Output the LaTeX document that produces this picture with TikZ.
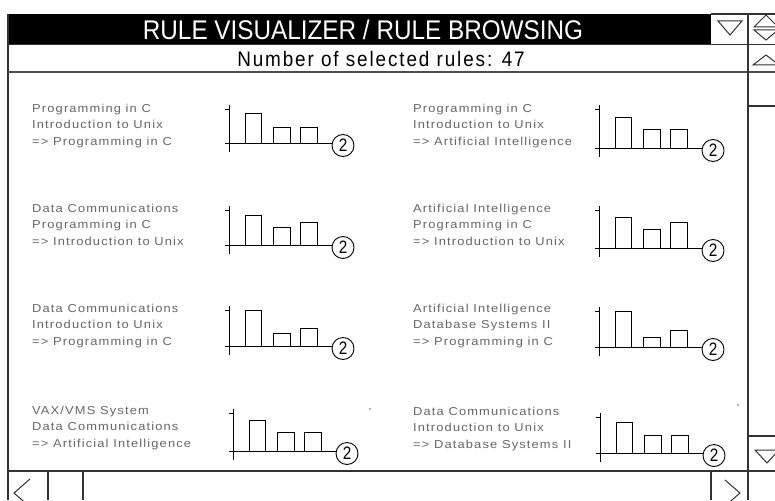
\documentclass[tikz,border=0pt]{standalone}
\usepackage{fontspec}
\setmainfont{Liberation Sans}
\newfontfamily\titlefont[FakeStretch=0.9]{Liberation Sans}
\newfontfamily\countfont[FakeStretch=0.9,LetterSpace=9]{Liberation Sans}
\newfontfamily\itemfont[FakeStretch=1.12,LetterSpace=10]{Liberation Sans}
\newfontfamily\digitfont[FakeStretch=0.85]{Liberation Sans}

\tikzset{
  frameline/.style={draw=black!80, line width=1.3pt},
  axisline/.style={draw=black, line width=1pt},
  barbox/.style={draw=black, line width=1pt},
  itemtext/.style={font=\itemfont\fontsize{11.5}{16.5}\selectfont, text=black!60,
    align=left, anchor=north west, inner sep=0pt},
  countbadge/.style={circle, draw=black, line width=0.9pt, minimum size=22pt,
    inner sep=0pt, font=\digitfont\fontsize{18}{18}\selectfont},
  glyph/.style={draw=black!80, line width=1pt, line join=miter},
}

% one support chart: id, axis x, baseline y, tick rise, three bar heights
\newcommand\rulechart[7]{%
  \pgfmathsetmacro\ctop{#3-#4-4}%
  \pgfmathsetmacro\ctick{#3-#4}%
  \pgfmathsetmacro\cbot{#3+9}%
  \pgfmathsetmacro\cleft{#2-4}%
  \node[countbadge] (#1-n) at (#2+114,#3+2.5) {2};
  \coordinate (#1-axtop) at (#2,\ctop);
  \coordinate (#1-axbot) at (#2,\cbot);
  \coordinate (#1-tick) at (\cleft,\ctick);
  \coordinate (#1-tickend) at (#2,\ctick);
  \coordinate (#1-zero) at (\cleft,#3);
  \draw[axisline] (#1-axtop) -- (#1-axbot);
  \draw[axisline] (#1-tick) -- (#1-tickend);
  \draw[axisline] (#1-zero) -- (#1-n.west |- #1-zero);
  \draw[barbox] (#2+16,#3) rectangle (#2+32,#3-#5);
  \draw[barbox] (#2+44,#3) rectangle (#2+61,#3-#6);
  \draw[barbox] (#2+71,#3) rectangle (#2+88,#3-#7);
}

% one rule text: id, x, centre of first line, three lines
\newcommand\ruleitem[6]{%
  \node[itemtext] (#1) at (#2,#3-4.1) {#4\\#5\\#6};
}

\begin{document}
\begin{tikzpicture}[x=1pt,y=-1pt]
\useasboundingbox (0,0) rectangle (775,500);
\clip (0,0) rectangle (775,500);
\fill[white] (0,0) rectangle (775,500);

% title bar
\fill[black] (8,14) rectangle (711,44);
\node[font=\titlefont\fontsize{27}{27}\selectfont, text=white, inner sep=0pt]
  (title) at (363,29.5) {RULE VISUALIZER / RULE BROWSING};
\node[font=\countfont\fontsize{21}{21}\selectfont, inner sep=0pt]
  (count) at (381,58.5) {Number of selected rules: 47};

% window frame
\draw[frameline] (711,14) -- (775,14);
\draw[frameline] (8,14) -- (8,500);
\draw[frameline] (8,44.5) -- (775,44.5);
\draw[draw=black!70, line width=1.8pt] (8,72) -- (775,72);
\draw[frameline] (748,14) -- (748,500);
\draw[frameline] (748,106) -- (775,106);
\draw[frameline] (748,436) -- (775,436);
\draw[frameline] (8,471) -- (775,471);
\draw[frameline] (48,471) -- (48,500);
\draw[frameline] (83,471) -- (83,500);
\draw[frameline] (711,471) -- (711,500);

% scroll arrows
\draw[glyph] (718,21) -- (742,21) -- (730,35) -- cycle;
\draw[glyph] (754,27) -- (766,15) -- (778,27) -- cycle;
\draw[glyph] (754,30) -- (778,30) -- (766,40) -- cycle;
\draw[glyph] (753,65) -- (766,55) -- (779,65) -- cycle;
\draw[glyph] (755,450) -- (779,450) -- (767,463) -- cycle;
\draw[glyph] (30,479) -- (14,493) -- (30,507);
\draw[glyph] (725,480) -- (740,493) -- (725,506);

% rules
\ruleitem{t1}{32}{108}{Programming in C}{Introduction to Unix}{=> Programming in C}
\rulechart{c1}{229}{143}{34}{30}{16}{16}
\ruleitem{t2}{413}{108}{Programming in C}{Introduction to Unix}{=> Artificial Intelligence}
\rulechart{c2}{599}{148}{39}{31}{19}{19}

\ruleitem{t3}{32}{208}{Data Communications}{Programming in C}{=> Introduction to Unix}
\rulechart{c3}{229}{245}{35}{30}{18}{23}
\ruleitem{t4}{413}{208}{Artificial Intelligence}{Programming in C}{=> Introduction to Unix}
\rulechart{c4}{599}{248}{38}{31}{19}{26}

\ruleitem{t5}{32}{308}{Data Communications}{Introduction to Unix}{=> Programming in C}
\rulechart{c5}{229}{346}{36}{36}{13}{18}
\ruleitem{t6}{413}{308}{Artificial Intelligence}{Database Systems II}{=> Programming in C}
\rulechart{c6}{599}{347}{36}{36}{10}{17}

\ruleitem{t7}{32}{410}{VAX/VMS System}{Data Communications}{=> Artificial Intelligence}
\rulechart{c7}{233}{451}{38}{31}{19}{19}
\ruleitem{t8}{413}{411}{Data Communications}{Introduction to Unix}{=> Database Systems II}
\rulechart{c8}{600}{453}{36}{31}{18}{18}

% stray specks
\fill[black!60] (370,409) circle (0.9);
\fill[black!60] (738,405) circle (0.9);
\end{tikzpicture}
\end{document}
